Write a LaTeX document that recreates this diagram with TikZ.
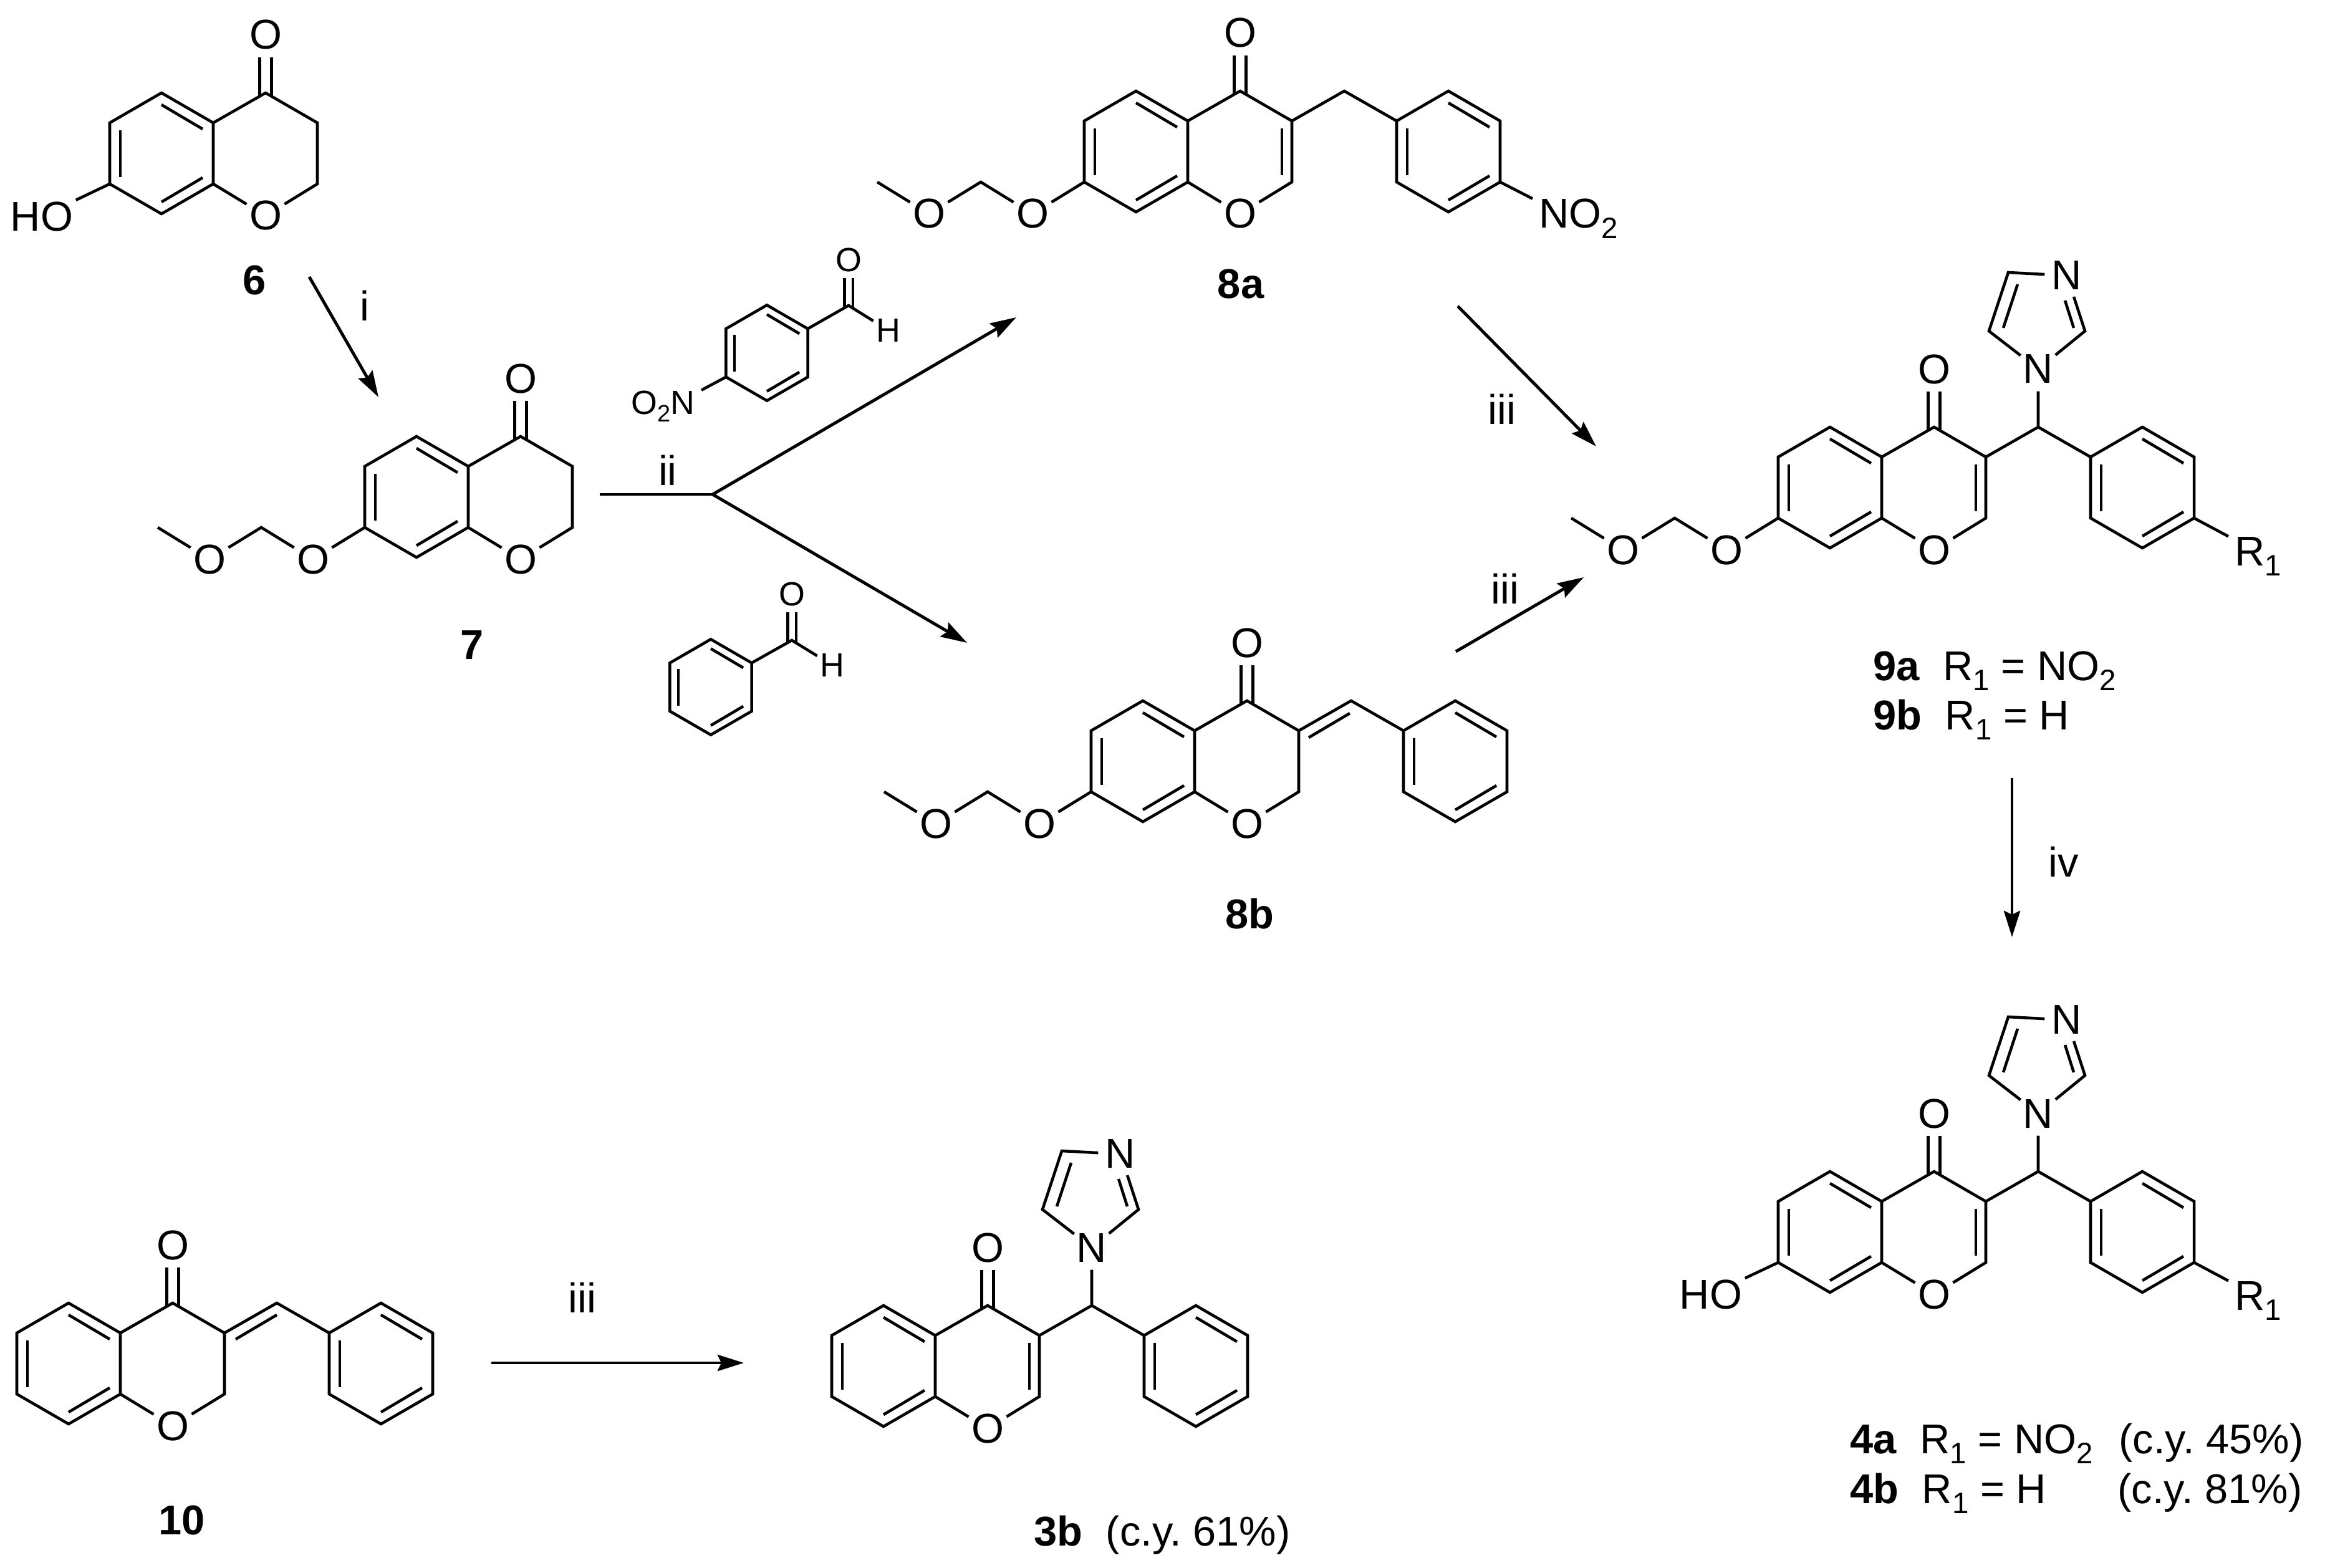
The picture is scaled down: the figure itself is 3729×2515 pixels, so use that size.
\documentclass[tikz,border=0pt]{standalone}
\usepackage{fontspec}
\setmainfont{Liberation Sans}
\usetikzlibrary{arrows.meta}

\newcommand{\bigfont}{\fontsize{19}{22}\selectfont}
\newcommand{\smallfont}{\fontsize{15.3}{18}\selectfont}
\newcommand{\subs}[1]{\raisebox{-0.16cm}{\fontsize{13.5}{15}\selectfont #1}}
\newcommand{\subsmall}[1]{\raisebox{-0.12cm}{\fontsize{10.8}{12}\selectfont #1}}

\tikzset{
	bond/.style={line width=1.3pt},
	dblbond/.style={line width=1.3pt,double,double distance=0.14cm},
	dblsmall/.style={line width=1.3pt,double,double distance=0.09cm},
	rxn/.style={->,line width=1.4pt},
	atom/.style={circle,inner sep=0pt,minimum size=0.7cm,font=\bigfont},
	atomsmall/.style={circle,inner sep=0pt,minimum size=0.56cm,font=\smallfont},
	subst/.style={inner xsep=0.1cm,inner ysep=0pt,font=\bigfont},
	hydroxy/.style={inner sep=0.04cm,font=\bigfont},
	cpd/.style={inner sep=0pt,font=\bigfont\bfseries},
	cond/.style={inner sep=0pt,font=\bigfont},
	rowtext/.style={anchor=base west,inner sep=0pt,font=\bigfont},
}

\newcommand{\benzring}[3][1]{
	\begin{scope}[shift={#3},scale=#1,name prefix=#2-]
		\coordinate (t) at (0,-97);
		\coordinate (ur) at (83,-49);
		\coordinate (lr) at (83,49);
		\coordinate (b) at (0,97);
		\coordinate (ll) at (-83,49);
		\coordinate (ul) at (-83,-49);
		\draw[bond] (t) -- (ur) -- (lr) -- (b) -- (ll) -- (ul) -- cycle;
		\draw[bond] (0,-78) -- (66,-39);
		\draw[bond] (-66,-37) -- (-66,38);
		\draw[bond] (66,39) -- (0,78);
	\end{scope}
}

\newcommand{\chromring}[2]{
	\benzring{#1}{#2}
	\begin{scope}[shift={#2},name prefix=#1-]
		\coordinate (c4) at (167,-97);
		\coordinate (c4b) at (167,-90);
		\coordinate (c3) at (250,-49);
		\coordinate (c2) at (250,49);
		\node[atom] (o1) at (167,100) {O};
		\node[atom] (co) at (167,-190) {O};
		\draw[dblbond] (co) -- (c4b);
		\draw[bond] (ur) -- (c4) -- (c3) -- (c2) -- (o1) -- (lr);
	\end{scope}
}

\newcommand{\chromdbl}[1]{
	\draw[bond,shift={#1}] (234,-37) -- (234,38);
}

\newcommand{\momether}[2]{
	\begin{scope}[shift={#2},name prefix=#1-]
		\node[atom] (o7) at (-166,100) {O};
		\coordinate (ch2) at (-249,49);
		\node[atom] (ome) at (-332,100) {O};
		\coordinate (me) at (-415,49);
		\draw[bond] (ll) -- (o7) -- (ch2) -- (ome) -- (me);
	\end{scope}
}

\newcommand{\pendant}[2]{
	\begin{scope}[shift={#2}]
		\benzring{#1p}{(501,0)}
		\coordinate (#1-ch) at (334,-97);
		\draw[bond] (#1-c3) -- (#1-ch) -- (#1p-ul);
	\end{scope}
}

\newcommand{\imidazole}[2]{
	\begin{scope}[shift={#2},name prefix=#1-]
		\node[atom] (n1) at (334,-190) {N};
		\coordinate (c5) at (255,-251);
		\coordinate (c4i) at (286,-345);
		\node[atom] (n3) at (380,-340) {N};
		\coordinate (c2i) at (409,-251);
		\draw[bond] (ch) -- (n1) -- (c5) -- (c4i) -- (n3) -- (c2i) -- (n1);
		\draw[bond] (301,-326) -- (278,-256);
		\draw[bond] (377,-300) -- (391,-256);
	\end{scope}
}

\begin{document}
\begin{tikzpicture}[x=0.01cm,y=-0.01cm,>={Stealth[length=0.42cm,width=0.26cm,inset=0.06cm]}]
	\useasboundingbox (0,0) rectangle (3729,2515);

	% 6
	\chromring{six}{(259,246)}
	\node[hydroxy] (six-ho) at (67,347) {HO};
	\draw[bond] (six-ll) -- (six-ho);
	\node[cpd] (lab6) at (408,449) {6};

	% 7
	\chromring{seven}{(668,797)}
	\momether{seven}{(668,797)}
	\node[cpd] (lab7) at (757,1035) {7};

	% 8a
	\chromring{eighta}{(1822,243)}
	\chromdbl{(1822,243)}
	\momether{eighta}{(1822,243)}
	\pendant{eighta}{(1822,243)}
	\node[subst,anchor=base west] (no2) at (2458,366) {NO\subs{2}};
	\draw[bond] (eightap-lr) -- (no2.north west);
	\node[cpd] (lab8a) at (1990,455) {8a};

	% 8b
	\chromring{eightb}{(1833,1221)}
	\momether{eightb}{(1833,1221)}
	\pendant{eightb}{(1833,1221)}
	\draw[bond] (2099,1183) -- (2165,1144);
	\node[cpd] (lab8b) at (2004,1466) {8b};

	% 9
	\chromring{nine}{(2935,782)}
	\chromdbl{(2935,782)}
	\momether{nine}{(2935,782)}
	\pendant{nine}{(2935,782)}
	\imidazole{nine}{(2935,782)}
	\node[subst,anchor=base west] (nine-r) at (3574,907) {R\subs{1}};
	\draw[bond] (ninep-lr) -- (nine-r.north west);
	\node[rowtext] (lab9a) at (3004,1091) {\textbf{9a}~~R\subs{1} = NO\subs{2}};
	\node[rowtext] (lab9b) at (3004,1170) {\textbf{9b}~~R\subs{1} = H};

	% 4
	\chromring{four}{(2935,1976)}
	\chromdbl{(2935,1976)}
	\pendant{four}{(2935,1976)}
	\imidazole{four}{(2935,1976)}
	\node[hydroxy] (four-ho) at (2744,2076) {HO};
	\draw[bond] (four-ll) -- (four-ho);
	\node[subst,anchor=base west] (four-r) at (3574,2101) {R\subs{1}};
	\draw[bond] (fourp-lr) -- (four-r.north west);
	\node[rowtext] (lab4a) at (2967,2331) {\textbf{4a}~~R\subs{1} = NO\subs{2}};
	\node[rowtext] (yield4a) at (3398,2331) {(c.y.\ 45\%)};
	\node[rowtext] (lab4b) at (2967,2411) {\textbf{4b}~~R\subs{1} = H};
	\node[rowtext] (yield4b) at (3396,2411) {(c.y.\ 81\%)};

	% 10
	\chromring{ten}{(110,2187)}
	\pendant{ten}{(110,2187)}
	\draw[bond] (378,2148) -- (444,2109);
	\node[cpd] (lab10) at (292,2438) {10};

	% 3b
	\chromring{three}{(1417,2191)}
	\chromdbl{(1417,2191)}
	\pendant{three}{(1417,2191)}
	\imidazole{three}{(1417,2191)}
	\node[rowtext] (lab3b) at (1658,2479) {\textbf{3b}~~(c.y.\ 61\%)};

	% aldehydes
	\benzring[0.79]{nitro}{(1230,566)}
	\coordinate (nitro-cho) at (1361,490);
	\coordinate (nitro-chob) at (1361,495);
	\node[atomsmall] (nitro-o) at (1361,417) {O};
	\node[atomsmall] (nitro-h) at (1425,530) {H};
	\draw[dblsmall] (nitro-o) -- (nitro-chob);
	\draw[bond] (nitro-ur) -- (nitro-cho) -- (nitro-h);
	\node[subst,anchor=base east,font=\smallfont] (o2n) at (1125,664) {O\subsmall{2}N};
	\draw[bond] (nitro-ll) -- (o2n.north east);

	\benzring[0.79]{benz}{(1140,1102)}
	\coordinate (benz-cho) at (1270,1027);
	\coordinate (benz-chob) at (1270,1032);
	\node[atomsmall] (benz-o) at (1270,953) {O};
	\node[atomsmall] (benz-h) at (1335,1067) {H};
	\draw[dblsmall] (benz-o) -- (benz-chob);
	\draw[bond] (benz-ur) -- (benz-cho) -- (benz-h);

	% arrows
	\coordinate (a6s) at (496,444);
	\coordinate (a6e) at (607,637);
	\draw[rxn] (a6s) -- (a6e);
	\node[cond] (ci) at (585,490) {i};

	\coordinate (brin) at (962,793);
	\coordinate (br) at (1143,793);
	\coordinate (bra) at (1630,509);
	\coordinate (brb) at (1551,1031);
	\draw[line width=1.4pt] (brin) -- (br);
	\draw[rxn] (br) -- (bra);
	\draw[rxn] (br) -- (brb);
	\node[cond] (cii) at (1071,754) {ii};

	\coordinate (a8as) at (2338,491);
	\coordinate (a8ae) at (2560,716);
	\draw[rxn] (a8as) -- (a8ae);
	\node[cond] (ciiia) at (2409,656) {iii};

	\coordinate (a8bs) at (2335,1045);
	\coordinate (a8be) at (2540,926);
	\draw[rxn] (a8bs) -- (a8be);
	\node[cond] (ciiib) at (2414,944) {iii};

	\coordinate (a9s) at (3227,1248);
	\coordinate (a9e) at (3227,1503);
	\draw[rxn] (a9s) -- (a9e);
	\node[cond] (civ) at (3310,1382) {iv};

	\coordinate (a10s) at (788,2186);
	\coordinate (a10e) at (1193,2186);
	\draw[rxn] (a10s) -- (a10e);
	\node[cond] (ciiic) at (934,2081) {iii};
\end{tikzpicture}
\end{document}
